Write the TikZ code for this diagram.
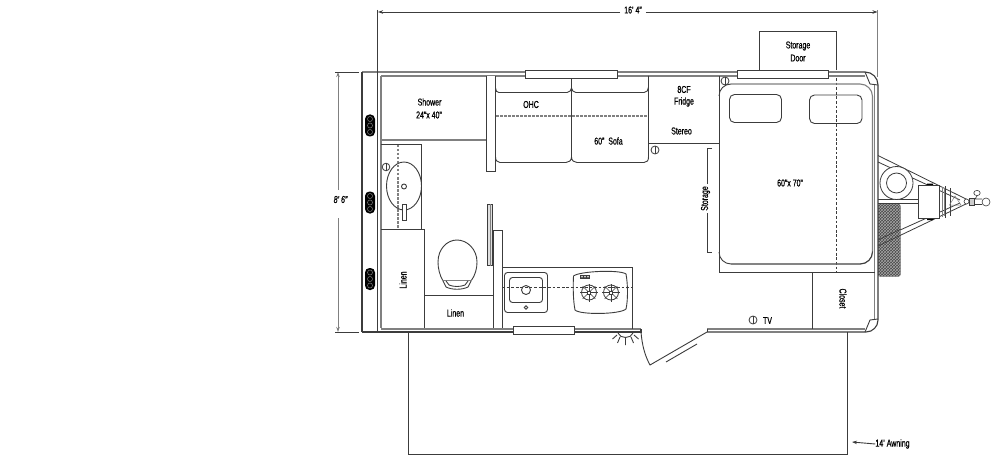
\documentclass[tikz,border=0pt]{standalone}
\usepackage{fontspec}
\setmainfont[FakeStretch=0.7,FakeBold=0.6]{Liberation Sans}
\usetikzlibrary{arrows.meta,patterns}
\definecolor{ln}{HTML}{3c3c3c}
\definecolor{wl}{HTML}{808080}
\tikzset{
  x=1pt,y=-1pt,
  thin line/.style={draw=ln,line width=0.9pt},
  wall/.style={draw=wl,line width=1.3pt},
  wall dark/.style={draw=ln,line width=1.1pt},
  dash gray/.style={draw=wl,line width=1.1pt,dash pattern=on 2.5pt off 1.5pt},
  dash dark/.style={draw=ln,line width=0.8pt,dash pattern=on 2.8pt off 1.8pt},
  win/.style={draw=ln,line width=0.9pt,fill=white},
  lab/.style={font=\fontsize{10}{11}\selectfont,text=black,inner sep=0pt},
  tip/.style={-{Stealth[length=5pt,width=3.5pt]}},
  outlet/.style={draw=ln,line width=0.8pt,fill=white},
  pill/.style={draw=ln,line width=0.9pt,rounded corners=5pt}
}
\newcommand{\outletat}[2]{\draw[outlet] (#1,#2) circle[radius=4];\draw[ln,line width=0.7pt] (#1,#2-4) -- (#1,#2+4);}
\newcommand{\vent}[2]{%
  \fill[black,rounded corners=4.5pt] (#1-5,#2-11) rectangle (#1+5,#2+11);
  \foreach \d in {-6.5,0,6.5}{\draw[gray,line width=0.5pt] (#1,#2+\d) circle[radius=2.5];}}
\newcommand{\burner}[2]{%
  \draw[ln,line width=0.8pt] (#1,#2) circle[radius=7.5];
  \foreach \a in {0,45,...,315}{\draw[ln,line width=0.6pt] (#1,#2) -- ++(\a:9);}
  \draw[ln,line width=0.7pt,fill=white] (#1-1.5,#2-1.5) rectangle (#1+1.5,#2+1.5);}
\begin{document}
\begin{tikzpicture}
\useasboundingbox (0,0) rectangle (1000,465);
\fill[white] (0,0) rectangle (1000,465);

% named anchors for the dimension lines
\coordinate (wL) at (378,12); \coordinate (wR) at (877.5,12);
\coordinate (hT) at (338,72); \coordinate (hB) at (338,332);
\coordinate (awTip) at (852,442);

% labels
\node[lab] (dimW) at (633,10) {16' 4"};
\node[lab] (dimH) at (340.5,199.5) {\itshape 8' 6"};
\node[lab] (shower) at (429.5,102) {Shower};
\node[lab] (showerB) at (429,115) {24"x 40"};
\node[lab] (ohc) at (531,104.5) {OHC};
\node[lab] (sofa) at (608.5,141) {60"\ \ Sofa};
\node[lab] (cf) at (684,89.5) {8CF};
\node[lab] (fridge) at (684,102) {Fridge};
\node[lab] (stereo) at (681.5,131) {Stereo};
\node[lab] (sdoorA) at (798,46) {Storage};
\node[lab] (sdoorB) at (798,58) {Door};
\node[lab] (bed) at (790,183) {60"x 70"};
\node[lab,rotate=90] (storage) at (705.5,198.5) {Storage};
\node[lab,rotate=-90] (closet) at (843,298.5) {Closet};
\node[lab,rotate=90] (linenA) at (403,280) {Linen};
\node[lab] (linenB) at (455.5,313) {Linen};
\node[lab] (tv) at (767.5,320.5) {TV};
\node[lab] (awning) at (892.5,444) {14' Awning};

% dimensions
\draw[thin line] (377.5,10) -- (377.5,72);
\draw[thin line,tip] (dimW.west) ++(-4,2) -- (wL);
\draw[thin line,tip] (dimW.east) ++(4,2) -- (wR);
\draw[wl,line width=1pt] (877.5,10) -- (877.5,77);
\draw[wl,line width=1pt,tip] (338,190) -- (hT);
\draw[wl,line width=1pt,tip] (338,218) -- (hB);
\draw[thin line] (335,72) -- (359,72) (335,332) -- (359,332);
\draw[thin line,tip] (awning.west) -- (awTip);

% awning
\draw[thin line] (408.5,332) -- (408.5,454.5) -- (847.5,454.5) -- (847.5,332);

% trailer left end
\draw[wall dark] (362,72) -- (362,332);
\draw[wall dark] (377.5,72) -- (377.5,332);
\draw[wall] (381,76) -- (381,328);
\vent{370}{125.5}
\vent{370}{202.5}
\vent{370}{279}

% storage door
\draw[thin line] (759.5,70) -- (759.5,31.5) -- (836.5,31.5) -- (836.5,70);
\draw[dash dark] (836.5,78) -- (836.5,272);

% hitch
\draw[ln,line width=0.8pt] (878,155.5) -- (968,200) (878,162) -- (960,200);
\draw[ln,line width=0.8pt] (878,246) -- (968,203) (878,240) -- (960,203);
\draw[ln,line width=0.8pt] (878,199) -- (919,199) (878,203) -- (919,203);
\draw[ln,line width=0.8pt,fill=white] (896.5,183) circle[radius=16.5];
\draw[ln,line width=0.8pt] (896.5,183) circle[radius=10];
\fill[black] (927,183.5) rectangle (933,186) (927,217.5) rectangle (933,220);
\draw[ln,line width=0.8pt,fill=white] (918.5,185.5) rectangle (939.5,218.5);
\draw[wl,line width=0.6pt] (942,186.5) -- (942,217) (944,187.5) -- (944,216);
\draw[ln,line width=0.6pt] (945.5,186) -- (945.5,217.5) (950,188) -- (950,215.5);
\draw[wl,line width=0.5pt] (955,196) -- (949.5,205) -- (961,205) -- cycle;
\draw[ln,line width=0.6pt,fill=white] (966.5,201.5) circle[radius=2.5];
\draw[ln,line width=0.6pt,fill=gray!40] (969,198.5) rectangle (974,205);
\draw[ln,line width=0.6pt] (974,199) -- (982,199) (974,204.5) -- (982,204.5) (975,199) -- (977,196);
\draw[ln,line width=0.6pt,fill=white] (986,202) circle[radius=4];
\draw[ln,line width=0.6pt,fill=white] (977,193) ellipse[x radius=3.2,y radius=2.6];
% wheel
\fill[gray!55!black,rounded corners=2pt] (878,204) rectangle (900.5,276.5);
\fill[pattern=crosshatch,pattern color=gray!70,rounded corners=2pt] (878,204) rectangle (900.5,276.5);
\draw[ln,line width=0.7pt] (878,246) -- (900.5,235.3) (878,240) -- (900.5,229.3);

% outer walls
\draw[wall dark] (362,72) -- (865,72) arc[start angle=-90,end angle=0,radius=13] -- (878,320) arc[start angle=0,end angle=90,radius=12] -- (707,332);
\draw[wall] (381,76) -- (865,76);
\draw[wall] (874.5,84) -- (874.5,320);
\draw[wall] (865,329) -- (707,329);
\draw[thin line] (865,72) -- (870,84) -- (878,85);
\draw[thin line] (878,319) -- (870,320) -- (865,332);
\draw[thin line] (707,329) -- (707,332);
\draw[wall] (381,329) -- (641,329);
\draw[wall dark] (362,332) -- (641,332) -- (641,329);

% bathroom
\draw[wall] (381,140) -- (486,140);
\draw[thin line,fill=white] (486,76) -- (486,171) -- (495.5,171) -- (495.5,76);
\draw[thin line] (381,144.5) -- (421.5,144.5) -- (421.5,229);
\draw[dash gray] (398,145) -- (398,229);
\draw[thin line] (404,186) ellipse[x radius=17.5,y radius=24];
\draw[thin line] (404,186.5) circle[radius=2.5];
\draw[thin line,fill=white] (402,204) rectangle (406,220.5);
\draw[draw=ln,line width=0.8pt,fill=white] (386,167) circle[radius=3.8];
\draw[ln,line width=0.7pt] (386,163.2) -- (386,170.8);
\draw[thin line] (381,229) -- (424.5,229) -- (424.5,328);
\draw[thin line] (424.5,295) -- (493,295);
\draw[thin line] (493,328) -- (493,230) -- (502,230) -- (502,328);
\draw[draw=ln,line width=0.7pt,fill=gray!25] (487.5,204) rectangle (492,265.5);
\draw[wl,line width=1.2pt] (490.5,204) -- (490.5,265.5);
% toilet
\draw[thin line] (443,281) .. controls (439.5,275) and (438,268) .. (438,262) .. controls (438,249) and (447,240) .. (457,240) .. controls (467,240) and (477,249) .. (477,262) .. controls (477,268) and (475.5,275) .. (471,281);
\draw[wl,line width=0.9pt] (442,280.5) -- (472,280.5);
\draw[thin line] (443,281) -- (446,287) .. controls (452,290) and (462,290) .. (468,287) -- (471,281);
\draw[thin line] (446,281) -- (449,285) .. controls (454,287) and (460,287) .. (465,285) -- (468,281);

% sofa
\draw[thin line] (495.5,78) -- (495.5,88) .. controls (495.5,91) and (497,92.5) .. (499,92.5) -- (567,92.5) .. controls (569.5,92.5) and (571.5,90) .. (571.5,88) .. controls (571.5,90) and (573.5,92.5) .. (576,92.5) -- (644,92.5) .. controls (647,92.5) and (648.5,90) .. (648.5,87);
\draw[thin line] (495.5,88) -- (495.5,157) .. controls (495.5,160.5) and (497.5,162.5) .. (500,162.5) -- (566,162.5) .. controls (569,162.5) and (571.5,160.5) .. (571.5,157) .. controls (571.5,160.5) and (574,162.5) .. (577,162.5) -- (644,162.5) .. controls (647,162.5) and (648.5,160.5) .. (648.5,157) -- (648.5,76);
\draw[thin line] (571.5,78) -- (571.5,157);
\draw[dash gray] (496,116) -- (648,116);
\draw[thin line] (648.5,143) -- (719,143);
\outletat{655}{150}

% bed
\draw[thin line] (719,76) -- (719,272) -- (875,272);
\draw[wl,line width=1.1pt] (731,84) -- (860,84) arc[start angle=-90,end angle=0,radius=12.5] -- (872.5,252) arc[start angle=0,end angle=90,radius=12] -- (731,264);
\draw[ln,line width=0.9pt] (719,96) arc[start angle=180,end angle=270,radius=12] (719,252) arc[start angle=180,end angle=90,radius=12] -- (860,264) arc[start angle=90,end angle=0,radius=12.5];
\draw[pill] (729.5,94.5) rectangle (781.5,122.5);
\draw[pill] (809.5,95) rectangle (862,123.5);
\outletat{725}{81}
\draw[thin line] (712,148) -- (707,148) -- (707,184);
\draw[thin line] (707,213) -- (707,252) -- (712,252);

% closet
\draw[thin line] (812.5,272) -- (812.5,329);

% kitchen
\draw[thin line] (502,267.5) -- (632.5,267.5) -- (632.5,329);
\draw[thin line,rounded corners=3pt] (504.5,272.5) rectangle (547.5,312.5);
\draw[thin line,rounded corners=3pt] (509.5,277.5) rectangle (542.5,302.5);
\draw[thin line] (526,290) circle[radius=4.5];
\draw[thin line] (526,307.5) circle[radius=1.8];
\draw[thin line] (573.5,276) .. controls (580,271) and (620,269.5) .. (626,274) .. controls (628,285) and (628,300) .. (626,309) .. controls (620,314.5) and (580,315) .. (575,310) .. controls (573,300) and (573,285) .. (573.5,276);
\draw[dash dark] (502,287.5) -- (632,287.5);
\burner{589}{292.5}
\burner{611}{292.5}
\fill[ln] (580,274.5) rectangle (590,279);
\foreach \k in {582,585,588}{\fill[white] (\k,276.7) circle[radius=0.9];}

% windows
\draw[win] (525.5,70) rectangle (617,78);
\draw[win] (737,70) rectangle (828,78);
\draw[win] (513,326) rectangle (574.5,334.5);

% light
\draw[thin line] (618,333) .. controls (620,339) and (631,339) .. (633,333);
\draw[thin line] (625.5,338) -- (625.5,345) (620,337) -- (617.5,343) (631,337) -- (633.5,343) (617,335) -- (612.5,339) (634,335) -- (638.5,339);

% door
\draw[thin line] (641,332) .. controls (642,345) and (645,356) .. (650,365) -- (707,332);
\draw[thin line] (666,362) -- (697,344);

% TV
\outletat{753}{320}
\end{tikzpicture}
\end{document}
